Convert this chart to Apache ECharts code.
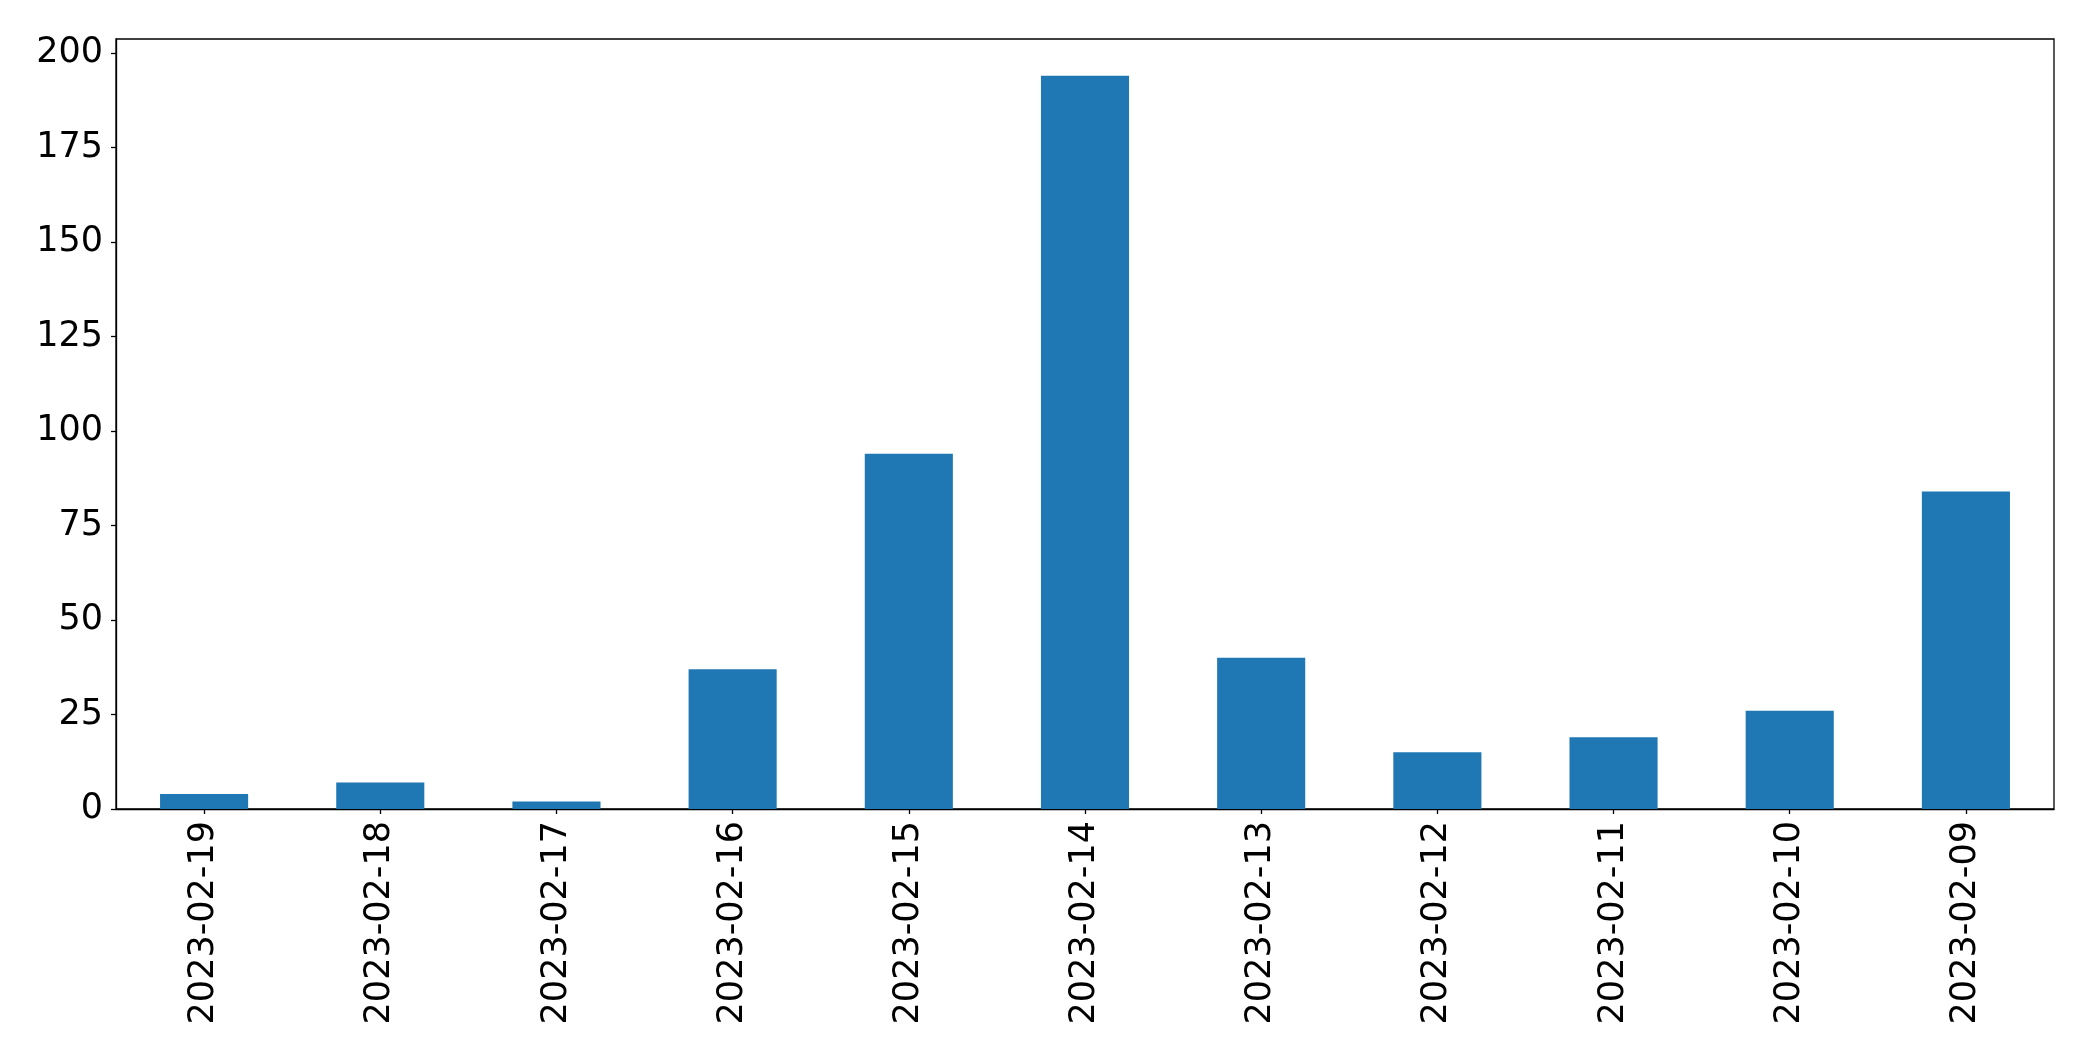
<!DOCTYPE html>
<html>
<head>
<meta charset="utf-8">
<script src="https://cdn.jsdelivr.net/npm/echarts@6/dist/echarts.min.js"></script>
<style>
html,body{margin:0;padding:0;background:#fff;}
#chart{width:2093px;height:1061px;}
</style>
</head>
<body>
<div id="chart"></div>
<script>
const categories = ["2023-02-19","2023-02-18","2023-02-17","2023-02-16","2023-02-15","2023-02-14","2023-02-13","2023-02-12","2023-02-11","2023-02-10","2023-02-09"];
const values = [4, 7, 2, 37, 94, 194, 40, 15, 19, 26, 84];
const yTicks = [0, 25, 50, 75, 100, 125, 150, 175, 200];
const yMax = 203.7;

const chart = echarts.init(document.getElementById('chart'), null, {renderer: 'canvas'});
const font = 'DejaVu Sans';
chart.setOption({
  animation: false,
  backgroundColor: '#ffffff',
  grid: {left: 116, right: 39, top: 39, bottom: 252, show: true, borderColor: '#000', borderWidth: 1.3, backgroundColor: 'transparent'},
  xAxis: {
    type: 'category',
    data: categories,
    boundaryGap: true,
    axisLine: {show: true, lineStyle: {color: '#000', width: 1.3}},
    axisTick: {show: true, alignWithLabel: true, length: 5, lineStyle: {color: '#000', width: 1.3}},
    axisLabel: {rotate: 90, color: '#000', fontFamily: font, fontSize: 35, margin: 12, interval: 0},
    splitLine: {show: false}
  },
  yAxis: {
    type: 'value',
    min: 0,
    max: yMax,
    interval: 25,
    axisLine: {show: true, lineStyle: {color: '#000', width: 1.3}},
    axisTick: {show: true, length: 5, lineStyle: {color: '#000', width: 1.3}, customValues: yTicks},
    axisLabel: {color: '#000', fontFamily: font, fontSize: 35, margin: 13, customValues: yTicks},
    splitLine: {show: false}
  },
  series: [{
    type: 'bar',
    data: values,
    barWidth: '50%',
    itemStyle: {color: '#1f77b4'}
  }]
});
</script>
</body>
</html>
